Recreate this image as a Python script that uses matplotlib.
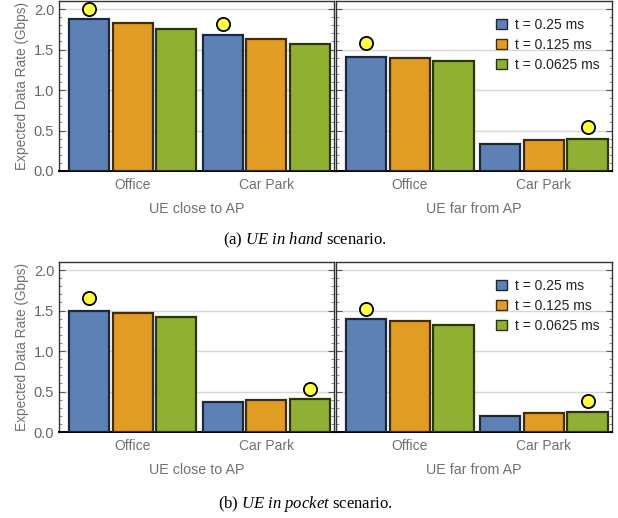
import matplotlib
matplotlib.use("Agg")
import matplotlib.pyplot as plt
from matplotlib.ticker import MultipleLocator
import numpy as np

# data (Gbps)
categories = ["Office", "Car Park"]
series_names = ["t = 0.25 ms", "t = 0.125 ms", "t = 0.0625 ms"]
panel_titles = ["UE close to AP", "UE far from AP"]

# per series: [office, car park]
hand_close = [[1.88, 1.68], [1.83, 1.63], [1.76, 1.575]]
hand_far = [[1.41, 0.33], [1.395, 0.38], [1.355, 0.40]]
pocket_close = [[1.50, 0.37], [1.475, 0.39], [1.425, 0.405]]
pocket_far = [[1.39, 0.20], [1.37, 0.23], [1.325, 0.25]]

# yellow markers: (category index, series index, value)
hand_close_best = [(0, 0, 2.00), (1, 0, 1.81)]
hand_far_best = [(0, 0, 1.58), (1, 2, 0.54)]
pocket_close_best = [(0, 0, 1.65), (1, 2, 0.53)]
pocket_far_best = [(0, 0, 1.52), (1, 2, 0.38)]

colors = ["#5E81B5", "#E19C24", "#8FB032"]
edges = ["#1c2738", "#3f2c0a", "#2a3410"]

plt.rcParams["font.family"] = ["Liberation Sans", "DejaVu Sans"]
plt.rcParams["mathtext.fontset"] = "custom"
plt.rcParams["mathtext.it"] = "Liberation Serif:italic"
plt.rcParams["mathtext.rm"] = "Liberation Serif"

W, H = 618, 518
fig = plt.figure(figsize=(W / 100, H / 100), dpi=100)

group_step = 3.07
slot = 1.0
bar_w = 0.92


def bar_x(g, i):
    return g * group_step + (i - 1) * slot


def draw_panel(ax, values, best, title, show_y, show_legend):
    for i in range(3):
        xs = [bar_x(g, i) for g in range(len(categories))]
        ax.bar(xs, values[i], width=bar_w, color=colors[i], edgecolor=edges[i],
               linewidth=1.6, zorder=3, label=series_names[i])
    for g, i, v in best:
        ax.plot(bar_x(g, i), v, "o", ms=9.5, mfc="#FFFF44", mec="black", mew=1.3,
                zorder=5, clip_on=False)
    ax.set_xlim(-1.69, 4.63)
    ax.set_ylim(0, 2.1)
    ax.yaxis.set_major_locator(MultipleLocator(0.5))
    ax.yaxis.set_minor_locator(MultipleLocator(0.1))
    ax.grid(axis="y", color="#d6d6d6", lw=1.0, zorder=0)
    ax.set_xticks([g * group_step for g in range(len(categories))])
    ax.set_xticklabels(categories, color="#707070", fontsize=10)
    ax.tick_params(axis="x", length=0, pad=5)
    ax.tick_params(axis="y", which="major", direction="in", length=4, color="#555555",
                   labelsize=10.5, labelcolor="#666666", left=True, right=True, width=0.8)
    ax.tick_params(axis="y", which="minor", direction="in", length=2, color="#777777",
                   left=True, right=True, width=0.6)
    if show_y:
        ax.yaxis.set_major_formatter(plt.FuncFormatter(lambda v, p: "%.1f" % v))
        ax.set_ylabel("Expected Data Rate (Gbps)", color="#707070", fontsize=9.8, labelpad=3)
    else:
        ax.set_yticklabels([])
    ax.set_xlabel(title, color="#707070", fontsize=10.3, labelpad=7)
    ax.spines["bottom"].set_color("black")
    ax.spines["bottom"].set_linewidth(1.4)
    for s in ["left", "right", "top"]:
        ax.spines[s].set_color("#333333")
        ax.spines[s].set_linewidth(1.0)
    if show_legend:
        leg = ax.legend(loc="upper right", bbox_to_anchor=(0.99, 0.96), frameon=False,
                        fontsize=10, handlelength=0.75, handleheight=0.75,
                        handletextpad=0.6, labelspacing=0.45, borderaxespad=0.3)
        for t in leg.get_texts():
            t.set_color("#222222")
        for p in leg.get_patches():
            p.set_linewidth(1.0)


def rect(x0, y_top, w, h):
    return [x0 / W, (H - y_top - h) / H, w / W, h / H]


rows = [
    (1, hand_close, hand_far, hand_close_best, hand_far_best),
    (262, pocket_close, pocket_far, pocket_close_best, pocket_far_best),
]
for top, close_vals, far_vals, close_best, far_best in rows:
    ax1 = fig.add_axes(rect(59, top, 275, 170))
    ax2 = fig.add_axes(rect(336, top, 276, 170))
    draw_panel(ax1, close_vals, close_best, panel_titles[0], True, False)
    draw_panel(ax2, far_vals, far_best, panel_titles[1], False, True)

fig.text(305 / W, 1 - 240 / H, "(a) $\\mathit{UE\\ in\\ hand}$ scenario.", ha="center", va="center",
         fontsize=12, family=["Liberation Serif"])
fig.text(305 / W, 1 - 504 / H, "(b) $\\mathit{UE\\ in\\ pocket}$ scenario.", ha="center", va="center",
         fontsize=12, family=["Liberation Serif"])

fig.savefig("out.png", dpi=100)
